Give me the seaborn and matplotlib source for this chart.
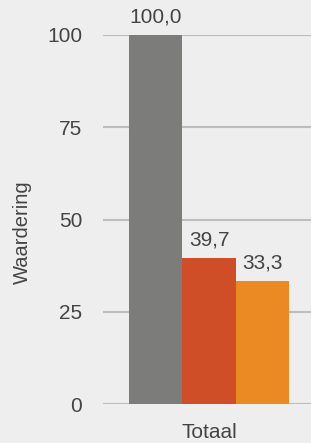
import pandas as pd
import seaborn as sns
import matplotlib.pyplot as plt

# values
groups = ['Totaal', 'Totaal', 'Totaal']
series = ['A', 'B', 'C']
values = [100.0, 39.7, 33.3]
bar_colors = ['#7c7d7b', '#d04e27', '#eb8a23']
y_ticks = [0, 25, 50, 75, 100]

df = pd.DataFrame({'groep': groups, 'serie': series, 'waarde': values})

sns.set_style('white')
plt.rcParams['font.family'] = ['Liberation Sans', 'DejaVu Sans']

bg = '#eeeeee'
txt = '#444444'
fs = 15

fig = plt.figure(figsize=(3.11, 4.43), dpi=100, facecolor=bg)
ax = fig.add_axes([0.331, 0.088, 0.669, 0.833])
ax.set_facecolor(bg)

sns.barplot(data=df, x='groep', y='waarde', hue='serie', palette=bar_colors,
            width=0.77, saturation=1, legend=False, ax=ax, zorder=3, linewidth=0)

# data labels
for cont in ax.containers:
    for bar in cont:
        h = bar.get_height()
        ax.text(bar.get_x() + bar.get_width() / 2, h + 2.3, f'{h:.1f}'.replace('.', ','),
                ha='center', va='bottom', fontsize=fs, color=txt, clip_on=False)

ax.set_ylim(0, 100)
ax.set_yticks(y_ticks)
ax.set_xlim(-0.51, 0.49)
ax.yaxis.grid(True, color='#bdbdbd', linewidth=1.5, zorder=0)
ax.tick_params(axis='y', length=0, labelsize=fs, colors=txt, pad=15)
ax.tick_params(axis='x', length=0, labelsize=fs, colors=txt, pad=14)
for s in ax.spines.values():
    s.set_visible(False)

ax.set_xlabel('')
ax.set_ylabel('Waardering', fontsize=14.5, color=txt, va='center')
ax.yaxis.set_label_coords(-0.385, 0.466)

fig.savefig('out.png', dpi=100, facecolor=bg)
